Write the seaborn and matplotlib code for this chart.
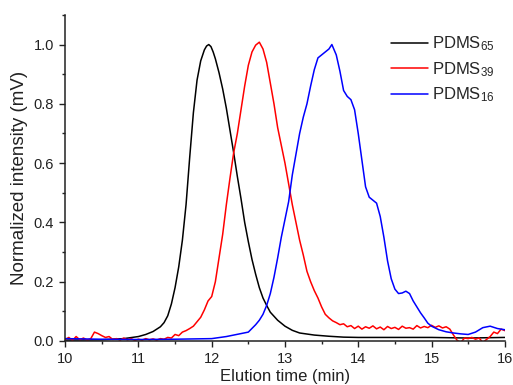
import numpy as np
import pandas as pd
import matplotlib
matplotlib.use("Agg")
import matplotlib.pyplot as plt
import seaborn as sns
from matplotlib.ticker import MultipleLocator

# PDMS65 (black)
t_65 = [10.0, 10.5, 10.8, 11.0, 11.1, 11.2, 11.3, 11.35, 11.4, 11.45, 11.5, 11.55,
        11.6, 11.65, 11.7, 11.75, 11.8, 11.85, 11.9, 11.93, 11.96, 11.99, 12.02, 12.05,
        12.1, 12.15, 12.2, 12.25, 12.3, 12.35, 12.4, 12.45, 12.5, 12.55, 12.6, 12.65,
        12.7, 12.75, 12.8, 12.9, 13.0, 13.1, 13.2, 13.4, 13.6, 13.8, 14.0, 14.5, 15.0,
        15.5, 16.0]
y_65 = [0.003, 0.004, 0.008, 0.015, 0.022, 0.032, 0.048, 0.062, 0.085, 0.125, 0.18, 0.25,
        0.34, 0.46, 0.62, 0.77, 0.88, 0.945, 0.982, 0.995, 1.0, 0.993, 0.975, 0.952,
        0.905, 0.85, 0.785, 0.71, 0.635, 0.555, 0.48, 0.40, 0.335, 0.275, 0.225, 0.18,
        0.145, 0.12, 0.097, 0.07, 0.05, 0.036, 0.027, 0.02, 0.016, 0.013, 0.012, 0.012,
        0.012, 0.01, 0.012]

# PDMS39 (red)
t_39 = [10.00, 10.05, 10.10, 10.15, 10.20, 10.25, 10.30, 10.35, 10.40, 10.45,
        10.50, 10.55, 10.60, 10.65, 10.70, 10.75, 10.80, 10.85, 10.90, 10.95,
        11.00, 11.05, 11.10, 11.15, 11.20, 11.25, 11.30, 11.35, 11.40, 11.45,
        11.50, 11.55, 11.60, 11.65, 11.70, 11.75, 11.80, 11.85, 11.90, 11.95,
        12.00, 12.05, 12.10, 12.15, 12.20, 12.25, 12.30, 12.35, 12.40, 12.45,
        12.50, 12.55, 12.60, 12.65, 12.70, 12.75, 12.80, 12.85, 12.90, 12.95,
        13.00, 13.05, 13.10, 13.15, 13.20, 13.25, 13.30, 13.35, 13.40, 13.45,
        13.50, 13.55, 13.60, 13.65, 13.70, 13.75, 13.80, 13.85, 13.90, 13.95,
        14.00, 14.05, 14.10, 14.15, 14.20, 14.25, 14.30, 14.35, 14.40, 14.45,
        14.50, 14.55, 14.60, 14.65, 14.70, 14.75, 14.80, 14.85, 14.90, 14.95,
        15.00, 15.05, 15.10, 15.15, 15.20, 15.25, 15.30, 15.35, 15.40, 15.45,
        15.50, 15.55, 15.60, 15.65, 15.70, 15.75, 15.80, 15.85, 15.90, 15.95, 16.00]
y_39 = [0.005, 0.012, 0.002, 0.015, 0.004, 0.010, 0.003, 0.008, 0.030, 0.025,
        0.018, 0.012, 0.015, 0.005, 0.008, 0.003, 0.010, 0.004, 0.008, 0.002,
        0.006, 0.003, 0.008, 0.004, 0.007, 0.003, 0.008, 0.006, 0.012, 0.010,
        0.022, 0.018, 0.030, 0.035, 0.042, 0.050, 0.065, 0.080, 0.105, 0.135,
        0.150, 0.200, 0.280, 0.360, 0.460, 0.550, 0.635, 0.700, 0.780, 0.860,
        0.930, 0.975, 0.998, 1.008, 0.985, 0.940, 0.870, 0.800, 0.720, 0.660,
        0.600, 0.530, 0.460, 0.400, 0.340, 0.290, 0.235, 0.200, 0.170, 0.145,
        0.115, 0.090, 0.078, 0.068, 0.062, 0.055, 0.058, 0.048, 0.052, 0.042,
        0.050, 0.040, 0.048, 0.043, 0.051, 0.041, 0.047, 0.038, 0.049, 0.042,
        0.046, 0.039, 0.050, 0.043, 0.045, 0.040, 0.052, 0.044, 0.049, 0.045,
        0.053, 0.046, 0.051, 0.044, 0.048, 0.040, 0.020, 0.002, -0.005, 0.010,
        0.008, 0.012, 0.006, 0.010, -0.005, 0.005, 0.015, 0.030, 0.025, 0.040, 0.035]

# PDMS16 (blue)
t_16 = [10.0, 10.5, 11.0, 11.5, 12.0, 12.2, 12.3, 12.4, 12.5, 12.6, 12.65, 12.7,
        12.75, 12.8, 12.85, 12.9, 12.95, 13.0, 13.05, 13.1, 13.15, 13.2, 13.25, 13.3,
        13.35, 13.4, 13.45, 13.5, 13.55, 13.6, 13.64, 13.7, 13.75, 13.8, 13.85, 13.9,
        13.95, 14.0, 14.05, 14.1, 14.15, 14.2, 14.25, 14.3, 14.35, 14.4, 14.45, 14.5,
        14.55, 14.6, 14.65, 14.7, 14.75, 14.8, 14.85, 14.9, 14.95, 15.0, 15.1, 15.2,
        15.3, 15.4, 15.5, 15.6, 15.7, 15.8, 15.9, 16.0]
y_16 = [0.008, 0.006, 0.005, 0.006, 0.008, 0.015, 0.02, 0.025, 0.03, 0.055, 0.07, 0.09,
        0.12, 0.16, 0.215, 0.28, 0.35, 0.41, 0.47, 0.56, 0.63, 0.70, 0.755, 0.80,
        0.86, 0.915, 0.955, 0.965, 0.975, 0.985, 1.0, 0.965, 0.91, 0.845, 0.825, 0.814,
        0.78, 0.70, 0.61, 0.52, 0.485, 0.475, 0.465, 0.42, 0.35, 0.27, 0.21, 0.175,
        0.16, 0.162, 0.168, 0.16, 0.135, 0.115, 0.095, 0.078, 0.06, 0.05, 0.038, 0.031,
        0.027, 0.024, 0.022, 0.03, 0.045, 0.05, 0.042, 0.038]

labels = [r"PDMS$_{65}$", r"PDMS$_{39}$", r"PDMS$_{16}$"]
colors = ["black", "red", "blue"]

sns.set_style("ticks")
plt.rcParams["font.family"] = ["Liberation Sans", "DejaVu Sans"]
plt.rcParams["mathtext.default"] = "regular"

fig = plt.figure(figsize=(5.13, 3.85), dpi=100)
ax = fig.add_axes([0.127, 0.1143, 0.857, 0.847])

series = [(t_65, y_65), (t_39, y_39), (t_16, y_16)]
for (t, y), lab, col in zip(series, labels, colors):
    df = pd.DataFrame({"t": t, "y": y})
    sns.lineplot(data=df, x="t", y="y", color=col, linewidth=1.1, label=lab, ax=ax)

ax.set_xlim(10, 16)
ax.set_ylim(0, 1.1)
ax.xaxis.set_major_locator(MultipleLocator(1))
ax.xaxis.set_minor_locator(MultipleLocator(0.5))
ax.yaxis.set_minor_locator(MultipleLocator(0.1))
ax.set_yticks([0.0, 0.2, 0.4, 0.6, 0.8, 1.0])
ax.tick_params(which="major", length=4.5, width=1, labelsize=10.5, colors="#222222")
ax.tick_params(which="minor", length=2.5, width=1, colors="#222222")
sns.despine(ax=ax)
for s in ["left", "bottom"]:
    ax.spines[s].set_color("#222222")
    ax.spines[s].set_linewidth(1.1)

ax.set_xlabel("Elution time (min)", fontsize=12, color="#222222", labelpad=2)
ax.set_ylabel("Normalized intensity (mV)", fontsize=13.5, color="#222222", labelpad=4)

leg = ax.legend(loc="upper right", bbox_to_anchor=(1.0, 0.97), frameon=False,
                fontsize=12, handlelength=2.2, handletextpad=0.25,
                labelspacing=0.4, borderaxespad=0.2)

fig.savefig("out.png", dpi=100)
